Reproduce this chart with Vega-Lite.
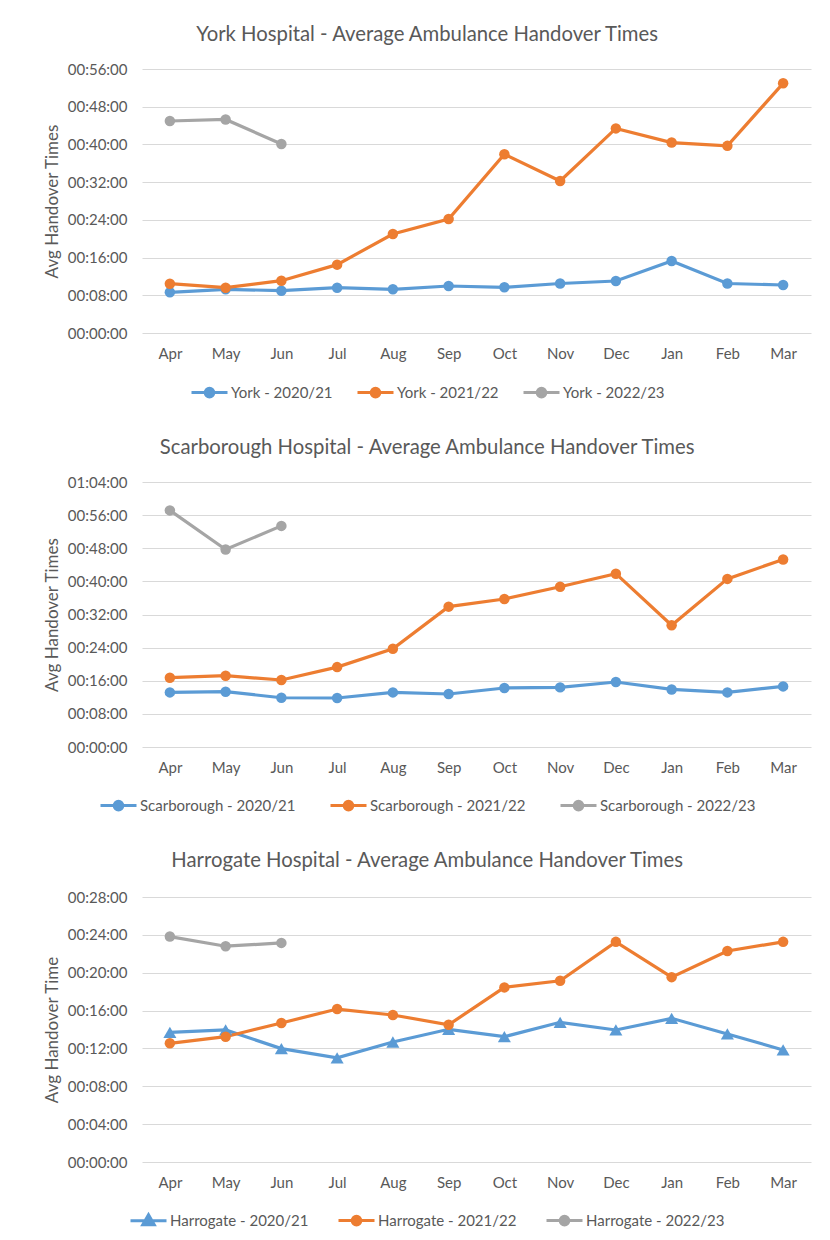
{
  "$schema": "https://vega.github.io/schema/vega-lite/v6.json",
  "padding": {"left": 43, "top": 24, "right": 10, "bottom": 5},
  "background": "white",
  "spacing": 34,
  "config": {
    "font": "Lato",
    "view": {"stroke": null},
    "axis": {"labelFont": "Lato", "labelFontSize": 15, "labelColor": "#595959", "titleFont": "Lato", "titleFontSize": 17, "titleFontWeight": "normal", "titleColor": "#595959", "ticks": false, "tickSize": 0, "domain": false},
    "axisY": {"gridColor": "#d9d9d9", "gridWidth": 1.2, "labelPadding": 15, "titlePadding": 6},
    "axisX": {"grid": false, "labelPadding": 13, "labelAngle": 0},
    "title": {"font": "Lato", "fontSize": 20.3, "fontWeight": "normal", "color": "#595959", "anchor": "middle", "frame": "bounds", "offset": 17},
    "legend": {"orient": "none", "direction": "horizontal", "labelFont": "Lato", "labelFontSize": 15, "labelColor": "#595959", "symbolSize": 1296, "symbolStrokeWidth": 3, "labelOffset": 2, "columnPadding": 22}
  },
  "resolve": {"scale": {"color": "independent", "y": "independent"}, "legend": {"color": "independent"}},
  "vconcat": [
    {
      "title": "York Hospital - Average Ambulance Handover Times",
      "width": 669,
      "height": 264,
      "data": {"values": [
        {"month": "Apr", "series": "York - 2020/21", "v": 8.63},
        {"month": "May", "series": "York - 2020/21", "v": 9.27},
        {"month": "Jun", "series": "York - 2020/21", "v": 8.97},
        {"month": "Jul", "series": "York - 2020/21", "v": 9.61},
        {"month": "Aug", "series": "York - 2020/21", "v": 9.27},
        {"month": "Sep", "series": "York - 2020/21", "v": 9.97},
        {"month": "Oct", "series": "York - 2020/21", "v": 9.69},
        {"month": "Nov", "series": "York - 2020/21", "v": 10.5},
        {"month": "Dec", "series": "York - 2020/21", "v": 11.03},
        {"month": "Jan", "series": "York - 2020/21", "v": 15.27},
        {"month": "Feb", "series": "York - 2020/21", "v": 10.5},
        {"month": "Mar", "series": "York - 2020/21", "v": 10.18},
        {"month": "Apr", "series": "York - 2021/22", "v": 10.46},
        {"month": "May", "series": "York - 2021/22", "v": 9.61},
        {"month": "Jun", "series": "York - 2021/22", "v": 11.1},
        {"month": "Jul", "series": "York - 2021/22", "v": 14.5},
        {"month": "Aug", "series": "York - 2021/22", "v": 21.0},
        {"month": "Sep", "series": "York - 2021/22", "v": 24.18},
        {"month": "Oct", "series": "York - 2021/22", "v": 37.9},
        {"month": "Nov", "series": "York - 2021/22", "v": 32.24},
        {"month": "Dec", "series": "York - 2021/22", "v": 43.4},
        {"month": "Jan", "series": "York - 2021/22", "v": 40.4},
        {"month": "Feb", "series": "York - 2021/22", "v": 39.7},
        {"month": "Mar", "series": "York - 2021/22", "v": 52.96},
        {"month": "Apr", "series": "York - 2022/23", "v": 44.97},
        {"month": "May", "series": "York - 2022/23", "v": 45.3},
        {"month": "Jun", "series": "York - 2022/23", "v": 40.1}
      ]},
      "encoding": {
        "x": {"field": "month", "type": "ordinal", "sort": ["Apr","May","Jun","Jul","Aug","Sep","Oct","Nov","Dec","Jan","Feb","Mar"], "scale": {"type": "point", "padding": 0.5}, "axis": {"title": null}},
        "y": {"field": "v", "type": "quantitative", "scale": {"domain": [0, 56], "nice": false}, "axis": {"title": "Avg Handover Times", "values": [0,8,16,24,32,40,48,56], "labelExpr": "pad(floor(datum.value/60)+'',2,'0','left')+':'+pad((datum.value%60)+'',2,'0','left')+':00'"}},
        "color": {"field": "series", "type": "nominal", "scale": {"domain": ["York - 2020/21","York - 2021/22","York - 2022/23"], "range": ["#5B9BD5","#ED7D31","#A5A5A5"]},
          "legend": {"title": null, "legendX": 48, "legendY": 304, "columnPadding": 18,
            "encode": {"symbols": {"update": {
              "shape": {"value": "M-1,0L1,0M-0.24,0A0.24,0.24 0 1,1 0.24,0A0.24,0.24 0 1,1 -0.24,0Z"},
              "fill": {"signal": "indexof(datum.value,'2020/21')>=0?'#5B9BD5':indexof(datum.value,'2021/22')>=0?'#ED7D31':'#A5A5A5'"},
              "stroke": {"signal": "indexof(datum.value,'2020/21')>=0?'#5B9BD5':indexof(datum.value,'2021/22')>=0?'#ED7D31':'#A5A5A5'"},
              "strokeWidth": {"value": 3}, "opacity": {"value": 1}}}}}}
      },
      "layer": [
        {"mark": {"type": "line", "strokeWidth": 3.2}},
        {"mark": {"type": "point", "filled": true, "size": 110, "opacity": 1}}
      ]
    },
    {
      "title": "Scarborough Hospital - Average Ambulance Handover Times",
      "width": 669,
      "height": 265,
      "data": {"values": [
        {"month": "Apr", "series": "Scarborough - 2020/21", "v": 13.19},
        {"month": "May", "series": "Scarborough - 2020/21", "v": 13.36},
        {"month": "Jun", "series": "Scarborough - 2020/21", "v": 11.9},
        {"month": "Jul", "series": "Scarborough - 2020/21", "v": 11.83},
        {"month": "Aug", "series": "Scarborough - 2020/21", "v": 13.19},
        {"month": "Sep", "series": "Scarborough - 2020/21", "v": 12.8},
        {"month": "Oct", "series": "Scarborough - 2020/21", "v": 14.25},
        {"month": "Nov", "series": "Scarborough - 2020/21", "v": 14.4},
        {"month": "Dec", "series": "Scarborough - 2020/21", "v": 15.7},
        {"month": "Jan", "series": "Scarborough - 2020/21", "v": 13.9},
        {"month": "Feb", "series": "Scarborough - 2020/21", "v": 13.19},
        {"month": "Mar", "series": "Scarborough - 2020/21", "v": 14.64},
        {"month": "Apr", "series": "Scarborough - 2021/22", "v": 16.74},
        {"month": "May", "series": "Scarborough - 2021/22", "v": 17.22},
        {"month": "Jun", "series": "Scarborough - 2021/22", "v": 16.18},
        {"month": "Jul", "series": "Scarborough - 2021/22", "v": 19.3},
        {"month": "Aug", "series": "Scarborough - 2021/22", "v": 23.74},
        {"month": "Sep", "series": "Scarborough - 2021/22", "v": 33.9},
        {"month": "Oct", "series": "Scarborough - 2021/22", "v": 35.74},
        {"month": "Nov", "series": "Scarborough - 2021/22", "v": 38.7},
        {"month": "Dec", "series": "Scarborough - 2021/22", "v": 41.86},
        {"month": "Jan", "series": "Scarborough - 2021/22", "v": 29.4},
        {"month": "Feb", "series": "Scarborough - 2021/22", "v": 40.6},
        {"month": "Mar", "series": "Scarborough - 2021/22", "v": 45.3},
        {"month": "Apr", "series": "Scarborough - 2022/23", "v": 57.14},
        {"month": "May", "series": "Scarborough - 2022/23", "v": 47.7},
        {"month": "Jun", "series": "Scarborough - 2022/23", "v": 53.4}
      ]},
      "encoding": {
        "x": {"field": "month", "type": "ordinal", "sort": ["Apr","May","Jun","Jul","Aug","Sep","Oct","Nov","Dec","Jan","Feb","Mar"], "scale": {"type": "point", "padding": 0.5}, "axis": {"title": null}},
        "y": {"field": "v", "type": "quantitative", "scale": {"domain": [0, 64], "nice": false}, "axis": {"title": "Avg Handover Times", "values": [0,8,16,24,32,40,48,56,64], "labelExpr": "pad(floor(datum.value/60)+'',2,'0','left')+':'+pad((datum.value%60)+'',2,'0','left')+':00'"}},
        "color": {"field": "series", "type": "nominal", "scale": {"domain": ["Scarborough - 2020/21","Scarborough - 2021/22","Scarborough - 2022/23"], "range": ["#5B9BD5","#ED7D31","#A5A5A5"]},
          "legend": {"title": null, "legendX": -43, "legendY": 304, "columnPadding": 28,
            "encode": {"symbols": {"update": {
              "shape": {"value": "M-1,0L1,0M-0.24,0A0.24,0.24 0 1,1 0.24,0A0.24,0.24 0 1,1 -0.24,0Z"},
              "fill": {"signal": "indexof(datum.value,'2020/21')>=0?'#5B9BD5':indexof(datum.value,'2021/22')>=0?'#ED7D31':'#A5A5A5'"},
              "stroke": {"signal": "indexof(datum.value,'2020/21')>=0?'#5B9BD5':indexof(datum.value,'2021/22')>=0?'#ED7D31':'#A5A5A5'"},
              "strokeWidth": {"value": 3}, "opacity": {"value": 1}}}}}}
      },
      "layer": [
        {"mark": {"type": "line", "strokeWidth": 3.2}},
        {"mark": {"type": "point", "filled": true, "size": 110, "opacity": 1}}
      ]
    },
    {
      "title": {"text": "Harrogate Hospital - Average Ambulance Handover Times", "offset": 19},
      "width": 669,
      "height": 265,
      "data": {"values": [
        {"month": "Apr", "series": "Harrogate - 2020/21", "v": 13.7},
        {"month": "May", "series": "Harrogate - 2020/21", "v": 13.95},
        {"month": "Jun", "series": "Harrogate - 2020/21", "v": 11.98},
        {"month": "Jul", "series": "Harrogate - 2020/21", "v": 11.0},
        {"month": "Aug", "series": "Harrogate - 2020/21", "v": 12.68},
        {"month": "Sep", "series": "Harrogate - 2020/21", "v": 14.02},
        {"month": "Oct", "series": "Harrogate - 2020/21", "v": 13.24},
        {"month": "Nov", "series": "Harrogate - 2020/21", "v": 14.76},
        {"month": "Dec", "series": "Harrogate - 2020/21", "v": 13.95},
        {"month": "Jan", "series": "Harrogate - 2020/21", "v": 15.18},
        {"month": "Feb", "series": "Harrogate - 2020/21", "v": 13.53},
        {"month": "Mar", "series": "Harrogate - 2020/21", "v": 11.84},
        {"month": "Apr", "series": "Harrogate - 2021/22", "v": 12.54},
        {"month": "May", "series": "Harrogate - 2021/22", "v": 13.24},
        {"month": "Jun", "series": "Harrogate - 2021/22", "v": 14.69},
        {"month": "Jul", "series": "Harrogate - 2021/22", "v": 16.16},
        {"month": "Aug", "series": "Harrogate - 2021/22", "v": 15.53},
        {"month": "Sep", "series": "Harrogate - 2021/22", "v": 14.5},
        {"month": "Oct", "series": "Harrogate - 2021/22", "v": 18.45},
        {"month": "Nov", "series": "Harrogate - 2021/22", "v": 19.15},
        {"month": "Dec", "series": "Harrogate - 2021/22", "v": 23.26},
        {"month": "Jan", "series": "Harrogate - 2021/22", "v": 19.53},
        {"month": "Feb", "series": "Harrogate - 2021/22", "v": 22.3},
        {"month": "Mar", "series": "Harrogate - 2021/22", "v": 23.26},
        {"month": "Apr", "series": "Harrogate - 2022/23", "v": 23.82},
        {"month": "May", "series": "Harrogate - 2022/23", "v": 22.8},
        {"month": "Jun", "series": "Harrogate - 2022/23", "v": 23.15}
      ]},
      "encoding": {
        "x": {"field": "month", "type": "ordinal", "sort": ["Apr","May","Jun","Jul","Aug","Sep","Oct","Nov","Dec","Jan","Feb","Mar"], "scale": {"type": "point", "padding": 0.5}, "axis": {"title": null}},
        "y": {"field": "v", "type": "quantitative", "scale": {"domain": [0, 28], "nice": false}, "axis": {"title": "Avg Handover Time", "values": [0,4,8,12,16,20,24,28], "labelExpr": "pad(floor(datum.value/60)+'',2,'0','left')+':'+pad((datum.value%60)+'',2,'0','left')+':00'"}},
        "color": {"field": "series", "type": "nominal", "scale": {"domain": ["Harrogate - 2020/21","Harrogate - 2021/22","Harrogate - 2022/23"], "range": ["#5B9BD5","#ED7D31","#A5A5A5"]},
          "legend": {"title": null, "legendX": -13, "legendY": 304, "columnPadding": 23,
            "encode": {"symbols": {"update": {
              "shape": {"signal": "indexof(datum.value,'2020/21')>=0?'M-1,0L1,0M0,-0.34L0.32,0.22L-0.32,0.22Z':'M-1,0L1,0M-0.24,0A0.24,0.24 0 1,1 0.24,0A0.24,0.24 0 1,1 -0.24,0Z'"},
              "fill": {"signal": "indexof(datum.value,'2020/21')>=0?'#5B9BD5':indexof(datum.value,'2021/22')>=0?'#ED7D31':'#A5A5A5'"},
              "stroke": {"signal": "indexof(datum.value,'2020/21')>=0?'#5B9BD5':indexof(datum.value,'2021/22')>=0?'#ED7D31':'#A5A5A5'"},
              "strokeWidth": {"value": 3}, "opacity": {"value": 1}}}}}}
      },
      "layer": [
        {"mark": {"type": "line", "strokeWidth": 3.2}},
        {"transform": [{"filter": "datum.series == 'Harrogate - 2020/21'"}],
         "mark": {"type": "point", "filled": true, "shape": "triangle-up", "size": 170, "opacity": 1}},
        {"transform": [{"filter": "datum.series != 'Harrogate - 2020/21'"}],
         "mark": {"type": "point", "filled": true, "shape": "circle", "size": 110, "opacity": 1}}
      ]
    }
  ]
}
